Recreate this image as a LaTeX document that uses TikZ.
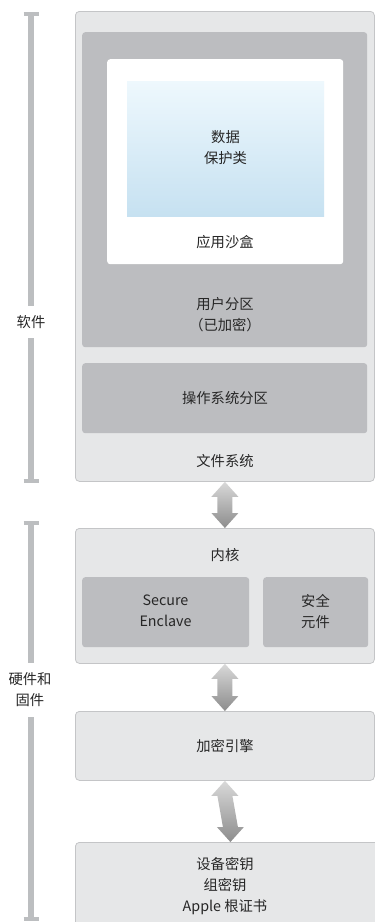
\documentclass[tikz,border=0pt]{standalone}
\usepackage{fontspec}
\setmainfont{Noto Sans CJK SC}
\usetikzlibrary{calc}
\definecolor{outerfill}{HTML}{E6E7E8}
\definecolor{outerline}{HTML}{C4C5C7}
\definecolor{darkfill}{HTML}{BCBDC0}
\definecolor{txtcol}{HTML}{262626}
\definecolor{bluetop}{HTML}{EEF8FD}
\definecolor{bluebot}{HTML}{C6E1F1}
\definecolor{bracketcol}{HTML}{BCBEC0}
\tikzset{
  outerbox/.style={draw=outerline, fill=outerfill, line width=0.8pt, rounded corners=4pt, anchor=north west, inner sep=0pt},
  darkbox/.style={fill=darkfill, rounded corners=3pt, anchor=north west, inner sep=0pt},
  whitebox/.style={fill=white, rounded corners=3pt, anchor=north west, inner sep=0pt},
  txt/.style={text=txtcol, font=\fontsize{14.3}{21}\selectfont, align=center, inner sep=1pt},
  bracket/.style={draw=bracketcol, line width=6pt},
  bcap/.style={draw=bracketcol, line width=4.5pt},
}
\newcommand{\dblarrow}[2]{%
  \shade[top color=gray!30, middle color=gray!15, bottom color=gray!90]
    ($(#1)$) -- ($(#1)+(13.5,15)$) -- ($(#1)+(7.5,15)$) --
    ($(#2)+(7.5,-15)$) -- ($(#2)+(13.5,-15)$) -- ($(#2)$) --
    ($(#2)+(-13.5,-15)$) -- ($(#2)+(-7.5,-15)$) --
    ($(#1)+(-7.5,15)$) -- ($(#1)+(-13.5,15)$) -- cycle;}
\begin{document}
\begin{tikzpicture}[x=1pt,y=-1pt]
\useasboundingbox (0,0) rectangle (375,922);
\clip (0,0) rectangle (375,922);
% software stack
\node[outerbox, minimum width=299pt, minimum height=470pt] (fs) at (75,11) {};
\node[darkbox, minimum width=285pt, minimum height=315pt] (user) at (82,32) {};
\node[whitebox, minimum width=236pt, minimum height=205pt] (sandbox) at (107,59) {};
\shade[top color=bluetop, bottom color=bluebot] (127,81) rectangle (324,216);
\node[anchor=north west, inner sep=0pt, minimum width=197pt, minimum height=135pt] (data) at (127,81) {};
\node[darkbox, minimum width=285pt, minimum height=70pt] (os) at (82,363) {};
\node[txt] (tdata) at (225.5,148) {数据\\保护类};
\node[txt] (tsandbox) at (225,242) {应用沙盒};
\node[txt] (tuser) at (225,315) {用户分区\\（已加密）};
\node[txt] (tos) at (225,398) {操作系统分区};
\node[txt] (tfs) at (225,461) {文件系统};
% kernel
\node[outerbox, minimum width=299pt, minimum height=135pt] (kernel) at (75,528) {};
\node[darkbox, minimum width=167pt, minimum height=70pt] (sep) at (82,577) {};
\node[darkbox, minimum width=105pt, minimum height=70pt] (se) at (263,577) {};
\node[txt] (tkernel) at (225,555) {内核};
\node[txt] (tsep) at (165.5,611) {Secure\\Enclave};
\node[txt] (tse) at (315.5,611) {安全\\元件};
% crypto engine
\node[outerbox, minimum width=299pt, minimum height=69pt] (aes) at (75,711) {};
\node[txt] (taes) at (225,746) {加密引擎};
% keys
\node[outerbox, minimum width=310pt, minimum height=100pt] (keys) at (75,842) {};
\node[txt] (tkeys) at (225,886) {设备密钥\\组密钥\\Apple 根证书};
% arrows
\dblarrow{fs.south}{kernel.north}
\dblarrow{kernel.south}{aes.north}
\dblarrow{aes.south}{keys.north}
% brackets
\node[txt] (lsoft) at (31,322) {软件};
\node[txt] (lhard) at (30,690) {硬件和\\固件};
\coordinate (s1) at (31,12);
\coordinate (s2) at (31,483);
\coordinate (h1) at (31,521);
\coordinate (h2) at (31,921);
\draw[bracket] (s1) -- (31,306);
\draw[bracket] (31,338) -- (s2);
\draw[bracket] (h1) -- (31,663);
\draw[bracket] (31,717) -- (h2);
\draw[bcap] ($(s1)+(-7.5,2)$) -- ($(s1)+(7.5,2)$);
\draw[bcap] ($(s2)+(-7.5,-2)$) -- ($(s2)+(7.5,-2)$);
\draw[bcap] ($(h1)+(-7.5,2)$) -- ($(h1)+(7.5,2)$);
\draw[bcap] ($(h2)+(-7.5,-2)$) -- ($(h2)+(7.5,-2)$);
\end{tikzpicture}
\end{document}
